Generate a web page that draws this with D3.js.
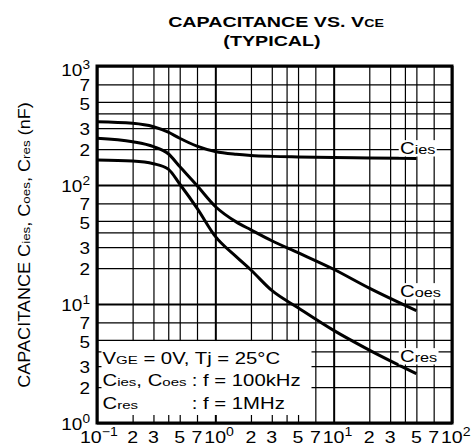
<!DOCTYPE html>
<html><head><meta charset="utf-8">
<script src="https://cdn.jsdelivr.net/npm/d3@7"></script>
<style>
body{margin:0;background:#fff}
text{font-family:"Liberation Sans",Arial,Helvetica,sans-serif;fill:#000}
</style>
</head><body>
<svg id="chart" width="473" height="448"></svg>
<script>
// ---- data ----
const voltage = [0.1, 0.2, 0.3, 0.4, 0.5, 0.7, 1, 1.5, 2, 3, 5, 10, 20, 50];
const cies = [340, 330, 309, 278, 247, 212, 191, 181, 177, 174, 172, 170, 169, 167];
const coes = [247, 231, 210, 183, 143, 99, 66, 49, 42, 34, 27, 19.6, 13.6, 8.8];
const cres = [162, 159, 151, 136, 102, 64, 37, 25, 19.3, 13, 9.3, 6.0, 4.1, 2.6];
const seriesNames = ["C{ies}", "C{oes}", "C{res}"];

const xGrid = [0.1,0.2,0.3,0.4,0.5,0.7,1,2,3,4,5,7,10,20,30,40,50,70,100];
const yGrid = [1,2,3,4,5,7,10,20,30,40,50,70,100,200,300,400,500,700,1000];
const xTickValues = [0.1,0.2,0.3,0.5,0.7,1,2,3,5,7,10,20,30,50,70,100];
const xTickLabels = ["10^{−1}","2","3","5","7","10^{0}","2","3","5","7","10^{1}","2","3","5","7","10^{2}"];
const yTickValues = [1,2,3,5,7,10,20,30,50,70,100,200,300,500,700,1000];
const yTickLabels = ["10^{0}","2","3","5","7","10^{1}","2","3","5","7","10^{2}","2","3","5","7","10^{3}"];

const titleLines = ["CAPACITANCE VS. V{CE}", "(TYPICAL)"];
const yTitle = "CAPACITANCE C{ies}, C{oes}, C{res} (nF)";
const noteLines = [["V{GE} = 0V, Tj = 25°C", ""], ["C{ies}, C{oes}", ": f = 100kHz"], ["C{res}", ": f = 1MHz"]];

// ---- layout ----
const L = 97, R = 452, T = 66, B = 423;
const svg = d3.select("#chart");
const x = d3.scaleLog().domain([0.1, 100]).range([L, R]);
const y = d3.scaleLog().domain([1, 1000]).range([B, T]);
const isDecade = d => Math.abs(Math.log10(d) - Math.round(Math.log10(d))) < 1e-9;

function addText(sel, px, py, str, size, opts = {}) {
  const sx = opts.sx || 1.27;
  const t = sel.append("text")
    .attr("transform", `translate(${px},${py})${opts.rotate ? ` rotate(${opts.rotate})` : ""} scale(${sx},1)`)
    .attr("font-size", size)
    .attr("text-anchor", opts.anchor || "start")
    .attr("font-weight", opts.bold ? "bold" : "normal");
  const re = /(\^\{[^}]*\}|\{[^}]*\}|[^{^]+)/g;
  let m, shift = 0;
  while ((m = re.exec(str)) !== null) {
    const s = m[0];
    if (s.startsWith("^{")) {
      const d = -size * 0.42;
      t.append("tspan").attr("font-size", size * 0.72).attr("dy", d - shift).text(s.slice(2, -1));
      shift = d;
    } else if (s.startsWith("{")) {
      t.append("tspan").attr("font-size", size * (opts.smallRatio || 0.74)).attr("dy", -shift).text(s.slice(1, -1));
      shift = 0;
    } else {
      t.append("tspan").attr("font-size", size).attr("dy", -shift).text(s);
      shift = 0;
    }
  }
  t.sx = sx;
  return t;
}

// ---- grid through d3 axes ----
const gx = svg.append("g").attr("transform", `translate(0,${B})`)
  .call(d3.axisBottom(x).tickValues(xGrid).tickSize(-(B - T)).tickFormat(""));
gx.select(".domain").remove();
gx.selectAll("line").attr("stroke", "#000").attr("stroke-width", d => isDecade(d) ? 2 : 1.2);

const gy = svg.append("g").attr("transform", `translate(${L},0)`)
  .call(d3.axisLeft(y).tickValues(yGrid).tickSize(-(R - L)).tickFormat(""));
gy.select(".domain").remove();
gy.selectAll("line").attr("stroke", "#000").attr("stroke-width", d => isDecade(d) ? 2 : 1.2);

// ---- note box (white, over the grid) ----
svg.append("rect")
  .attr("x", x(0.1) + 4.5).attr("y", y(5) + 1.2)
  .attr("width", 311.5 - (x(0.1) + 4.5)).attr("height", (y(1) - 8) - (y(5) + 1.2))
  .attr("fill", "#fff");

// ---- frame ----
svg.append("rect").attr("x", L).attr("y", T).attr("width", R - L).attr("height", B - T)
  .attr("fill", "none").attr("stroke", "#000").attr("stroke-width", 3);

// ---- curves ----
const line = d3.line().x(d => x(d[0])).y(d => y(d[1])).curve(d3.curveMonotoneX);
[cies, coes, cres].forEach(vals => {
  svg.append("path").datum(voltage.map((v, i) => [v, vals[i]]))
    .attr("d", line).attr("fill", "none").attr("stroke", "#000").attr("stroke-width", 3);
});

// ---- curve labels with white background ----
const labelPos = [[400, 154], [400, 297], [400, 362]];
seriesNames.forEach((nm, i) => {
  const g = svg.append("g");
  const t = addText(g, labelPos[i][0], labelPos[i][1], nm, 16, {smallRatio: 0.8});
  const bb = t.node().getBBox();
  g.insert("rect", "text")
    .attr("transform", t.attr("transform"))
    .attr("x", bb.x - 1).attr("y", bb.y + 1).attr("width", bb.width + 2).attr("height", bb.height - 2)
    .attr("fill", "#fff");
});

// ---- note text ----
const noteY = [364, 386, 409];
const noteX = 102.5;
let colonX = null;
noteLines.forEach((ln, i) => {
  const t = addText(svg, noteX, noteY[i], ln[0], 16);
  if (ln[1] && colonX === null) {
    colonX = noteX + t.node().getBBox().width * t.sx + 5;
  }
  if (ln[1]) addText(svg, colonX, noteY[i], ln[1], 16);
});

// ---- tick labels ----
xTickValues.forEach((v, i) => {
  const lab = xTickLabels[i];
  if (lab.includes("^")) {
    const shiftLeft = i === 0 ? 17 : 11;
    addText(svg, x(v) - shiftLeft, 443, lab, 17, {anchor: "start", sx: 1.15});
  } else {
    addText(svg, x(v), 443, lab, 17, {anchor: "middle", sx: 1.15});
  }
});
const yLabelOffset = lab => {
  if (lab === "10^{3}") return 10;
  if (lab === "7") return 6.5;
  if (lab === "5") return 8;
  if (lab === "3" || lab === "2") return 7;
  return 6.5;
};
yTickValues.forEach((v, i) => {
  addText(svg, 90, y(v) + yLabelOffset(yTickLabels[i]), yTickLabels[i], 16.5, {anchor: "end", sx: 1.15});
});

// ---- titles ----
addText(svg, 276, 27, titleLines[0], 15.5, {anchor: "middle", bold: true, smallRatio: 0.72});
addText(svg, 272, 46, titleLines[1], 15.5, {anchor: "middle", bold: true});
addText(svg, 30, 245, yTitle, 16, {anchor: "middle", rotate: -90, sx: 1.13});
</script>
</body></html>
